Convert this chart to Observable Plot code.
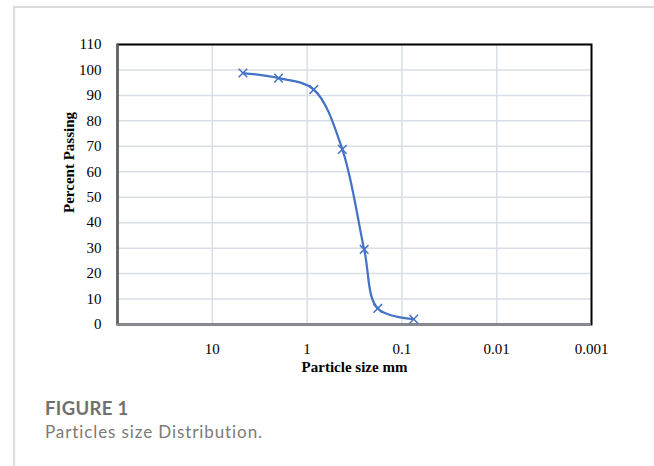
<!DOCTYPE html>
<html>
<head>
<meta charset="utf-8">
<script src="https://cdn.jsdelivr.net/npm/d3@7"></script>
<script src="https://cdn.jsdelivr.net/npm/@observablehq/plot@0.6"></script>
<style>
  html, body { margin: 0; padding: 0; background: #fff; width: 654px; height: 466px; overflow: hidden; }
  #box { position: absolute; left: 13px; top: 6px; width: 700px; height: 500px;
         border-left: 2px solid #dcdcdc; border-top: 2px solid #dcdcdc; }
  #chart { position: absolute; left: 0; top: 0; }
  .cap1 { position: absolute; left: 45px; top: 398.6px; font-family: Lato, "Open Sans", sans-serif;
          font-weight: 700; font-size: 18.5px; line-height: 18.5px; letter-spacing: 0.35px; color: #707070; white-space: nowrap; }
  .cap2 { position: absolute; left: 45px; top: 423.2px; font-family: Lato, "Open Sans", sans-serif;
          font-size: 17px; line-height: 17px; letter-spacing: 0.9px; color: #7a7a7a; white-space: nowrap; }
</style>
</head>
<body>
<div id="box"></div>
<div id="chart"></div>
<div class="cap1">FIGURE 1</div>
<div class="cap2">Particles size Distribution.</div>
<script>
// Data
const sizes = [4.75, 2.0, 0.85, 0.425, 0.25, 0.18, 0.075];   // particle size, mm
const passing = [98.8, 96.8, 92.3, 68.8, 29.5, 6.3, 2.1];     // percent passing
const xTicks = [10, 1, 0.1, 0.01, 0.001];
const xTickLabels = ["10", "1", "0.1", "0.01", "0.001"];
const xGrid = [10, 1, 0.1, 0.01];
const yTicks = [0, 10, 20, 30, 40, 50, 60, 70, 80, 90, 100, 110];
const xDomain = [100, 0.001];
const yDomain = [0, 110];

const data = sizes.map((s, i) => ({size: s, pct: passing[i]}));
const blue = "#4472C4";
const grid = "#d9dde6";

const chart = Plot.plot({
  width: 654,
  height: 385,
  marginLeft: 117,
  marginRight: 63,
  marginTop: 44,
  marginBottom: 61,
  style: {fontFamily: "'Liberation Serif', 'Times New Roman', serif", fontSize: "15px", color: "#000", background: "transparent"},
  x: {type: "log", domain: xDomain},
  y: {domain: yDomain},
  marks: [
    Plot.gridX(xGrid, {stroke: grid, strokeOpacity: 1, strokeWidth: 1.5}),
    Plot.gridY(yTicks.filter(v => v > 0), {stroke: grid, strokeOpacity: 1, strokeWidth: 1.5}),
    Plot.frame({stroke: "#000", strokeWidth: 2}),
    Plot.ruleX([xDomain[0]], {stroke: "#5f6166", strokeWidth: 2}),
    Plot.ruleY([yDomain[0]], {stroke: "#8a8c91", strokeWidth: 2}),
    Plot.axisX(xTicks, {tickSize: 0, tickPadding: 19, tickFormat: (d) => xTickLabels[xTicks.indexOf(d)], label: null, fontSize: 15}),
    Plot.axisY(yTicks, {tickSize: 0, tickPadding: 16, label: null, fontSize: 15}),
    Plot.line(data, {x: "size", y: "pct", curve: "catmull-rom", stroke: blue, strokeWidth: 2.25}),
    Plot.dot(data, {x: "size", y: "pct", symbol: "times", r: 4, stroke: blue, strokeWidth: 1.5}),
    Plot.text(["Particle size mm"], {frameAnchor: "bottom", lineAnchor: "middle", dy: 43, fontWeight: "bold", fontSize: 15}),
    Plot.text(["Percent Passing"], {frameAnchor: "left", textAnchor: "middle", lineAnchor: "middle", rotate: -90, dx: -48, dy: -22, fontWeight: "bold", fontSize: 15})
  ]
});
document.getElementById("chart").appendChild(chart);
</script>
</body>
</html>
